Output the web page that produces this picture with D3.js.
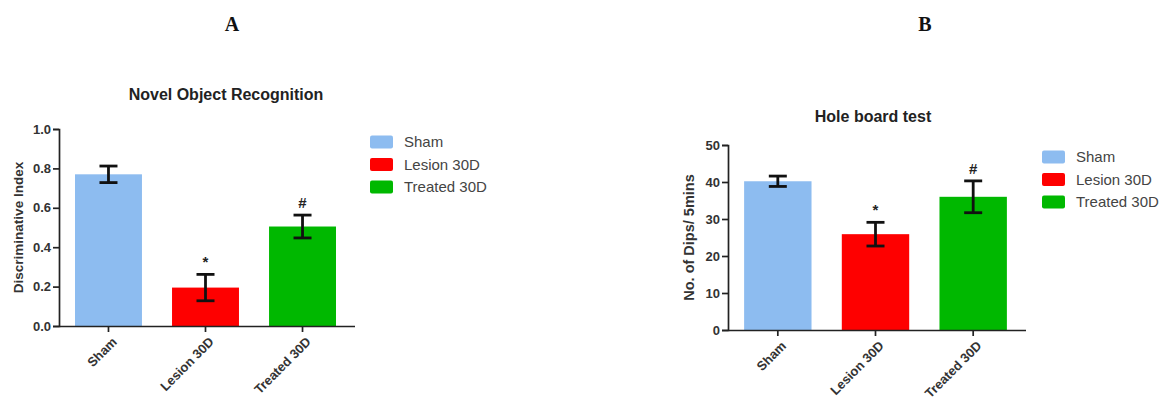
<!DOCTYPE html>
<html>
<head>
<meta charset="utf-8">
<script src="https://cdn.jsdelivr.net/npm/d3@7"></script>
<style>
  body { margin: 0; background: #fff; }
  svg { font-family: "Liberation Sans", Arial, sans-serif; }
</style>
</head>
<body>
<svg id="chart" width="1163" height="403"></svg>
<script>
// groups shared by both panels
const groups = ['Sham', 'Lesion 30D', 'Treated 30D'];
const colors = ['#8dbcf0', '#fe0000', '#00b800'];
const marks = ['', '*', '#'];

// panel A - novel object recognition
const norMean = [0.77, 0.195, 0.505];
const norSem = [0.042, 0.067, 0.058];
const norTicks = [0, 0.2, 0.4, 0.6, 0.8, 1.0];

// panel B - hole board test
const hbMean = [40.2, 25.9, 36.0];
const hbSem = [1.4, 3.2, 4.3];
const hbTicks = [0, 10, 20, 30, 40, 50];

const svg = d3.select('#chart');

function drawPanel(p) {
    const g = svg.append('g');

    const x = d3.scaleBand()
        .domain(groups)
        .range([p.left, p.right])
        .paddingInner(0.31)
        .paddingOuter(0.165);

    const y = d3.scaleLinear()
        .domain(p.domain)
        .range([p.bottom, p.top]);

    // bars
    g.selectAll('rect.bar')
        .data(p.mean)
        .enter()
        .append('rect')
        .attr('class', 'bar')
        .attr('x', (d, i) => x(groups[i]))
        .attr('width', x.bandwidth())
        .attr('y', d => y(d))
        .attr('height', d => y(0) - y(d))
        .style('fill', (d, i) => colors[i]);

    // error bars
    const cap = 9;
    const eb = g.selectAll('g.err')
        .data(p.mean)
        .enter()
        .append('g')
        .attr('class', 'err')
        .attr('transform', (d, i) => `translate(${x(groups[i]) + x.bandwidth() / 2},0)`)
        .style('stroke', '#111')
        .style('stroke-width', 2.8);
    eb.append('line')
        .attr('y1', (d, i) => y(d + p.sem[i]))
        .attr('y2', (d, i) => y(d - p.sem[i]));
    eb.append('line')
        .attr('x1', -cap).attr('x2', cap)
        .attr('y1', (d, i) => y(d + p.sem[i]))
        .attr('y2', (d, i) => y(d + p.sem[i]));
    eb.append('line')
        .attr('x1', -cap).attr('x2', cap)
        .attr('y1', (d, i) => y(d - p.sem[i]))
        .attr('y2', (d, i) => y(d - p.sem[i]));

    // significance marks
    g.selectAll('text.sig')
        .data(p.mean)
        .enter()
        .append('text')
        .attr('class', 'sig')
        .attr('x', (d, i) => x(groups[i]) + x.bandwidth() / 2)
        .attr('y', (d, i) => y(d + p.sem[i]) - 7)
        .attr('text-anchor', 'middle')
        .style('font-size', '15px')
        .style('font-weight', 'bold')
        .style('fill', '#222')
        .text((d, i) => marks[i]);

    // y axis
    const yAxis = g.append('g')
        .attr('transform', `translate(${p.left},0)`)
        .call(d3.axisLeft(y).tickValues(p.ticks).tickFormat(p.fmt).tickSize(6).tickPadding(2));
    yAxis.selectAll('path, line').style('stroke', '#222').style('stroke-width', 1.7);
    yAxis.selectAll('text')
        .style('font-family', '"Liberation Sans", Arial, sans-serif')
        .style('font-size', '13px')
        .style('font-weight', 'bold')
        .style('fill', '#333');

    // x axis
    const xAxis = g.append('g')
        .attr('transform', `translate(0,${p.bottom})`)
        .call(d3.axisBottom(x).tickSize(6).tickSizeOuter(0).tickPadding(2));
    xAxis.select('.domain').attr('d', `M${p.left},0.5H${p.right + 3}`);
    xAxis.selectAll('path, line').style('stroke', '#222').style('stroke-width', 1.7);
    xAxis.selectAll('text')
        .style('font-family', '"Liberation Sans", Arial, sans-serif')
        .style('font-size', '13px')
        .style('font-weight', 'bold')
        .style('fill', '#333')
        .attr('text-anchor', 'end')
        .attr('x', 0).attr('y', 0)
        .attr('transform', 'translate(6,13.5) rotate(-45)')
        .attr('dy', '0.35em');

    // y label
    g.append('text')
        .attr('transform', `translate(${p.labelX},${(p.top + p.bottom) / 2}) rotate(-90)`)
        .attr('text-anchor', 'middle')
        .attr('dy', '0.35em')
        .style('font-size', p.labelSize)
        .style('font-weight', 'bold')
        .style('fill', '#333')
        .text(p.yLabel);

    // title
    g.append('text')
        .attr('x', p.titleX)
        .attr('y', p.titleY)
        .attr('text-anchor', 'middle')
        .style('font-size', '16px')
        .style('font-weight', 'bold')
        .style('fill', '#222')
        .text(p.title);

    // panel letter
    g.append('text')
        .attr('x', p.letterX)
        .attr('y', 31)
        .attr('text-anchor', 'middle')
        .style('font-family', '"Liberation Serif", "Times New Roman", serif')
        .style('font-size', '20px')
        .style('font-weight', 'bold')
        .style('fill', '#111')
        .text(p.letter);

    // legend
    const leg = g.selectAll('g.leg')
        .data(groups)
        .enter()
        .append('g')
        .attr('class', 'leg')
        .attr('transform', (d, i) => `translate(${p.legX},${p.legY + i * 22.5})`);
    leg.append('rect')
        .attr('x', 0).attr('y', -6.5)
        .attr('width', 23).attr('height', 13)
        .attr('rx', 2)
        .style('fill', (d, i) => colors[i]);
    leg.append('text')
        .attr('x', 34)
        .attr('dy', '0.35em')
        .style('font-size', '15px')
        .style('fill', '#444')
        .text(d => d);
}

drawPanel({
    mean: norMean, sem: norSem, ticks: norTicks, domain: [0, 1],
    fmt: d3.format('.1f'),
    left: 59, right: 352, top: 129, bottom: 326,
    yLabel: 'Discriminative Index', labelX: 18, labelSize: '13.5px',
    title: 'Novel Object Recognition', titleX: 226, titleY: 100,
    letter: 'A', letterX: 232,
    legX: 370, legY: 142
});

drawPanel({
    mean: hbMean, sem: hbSem, ticks: hbTicks, domain: [0, 50],
    fmt: d3.format('d'),
    left: 728, right: 1023, top: 145, bottom: 330,
    yLabel: 'No. of Dips/ 5mins', labelX: 689, labelSize: '14.5px',
    title: 'Hole board test', titleX: 873, titleY: 122,
    letter: 'B', letterX: 925,
    legX: 1042, legY: 157
});
</script>
</body>
</html>
